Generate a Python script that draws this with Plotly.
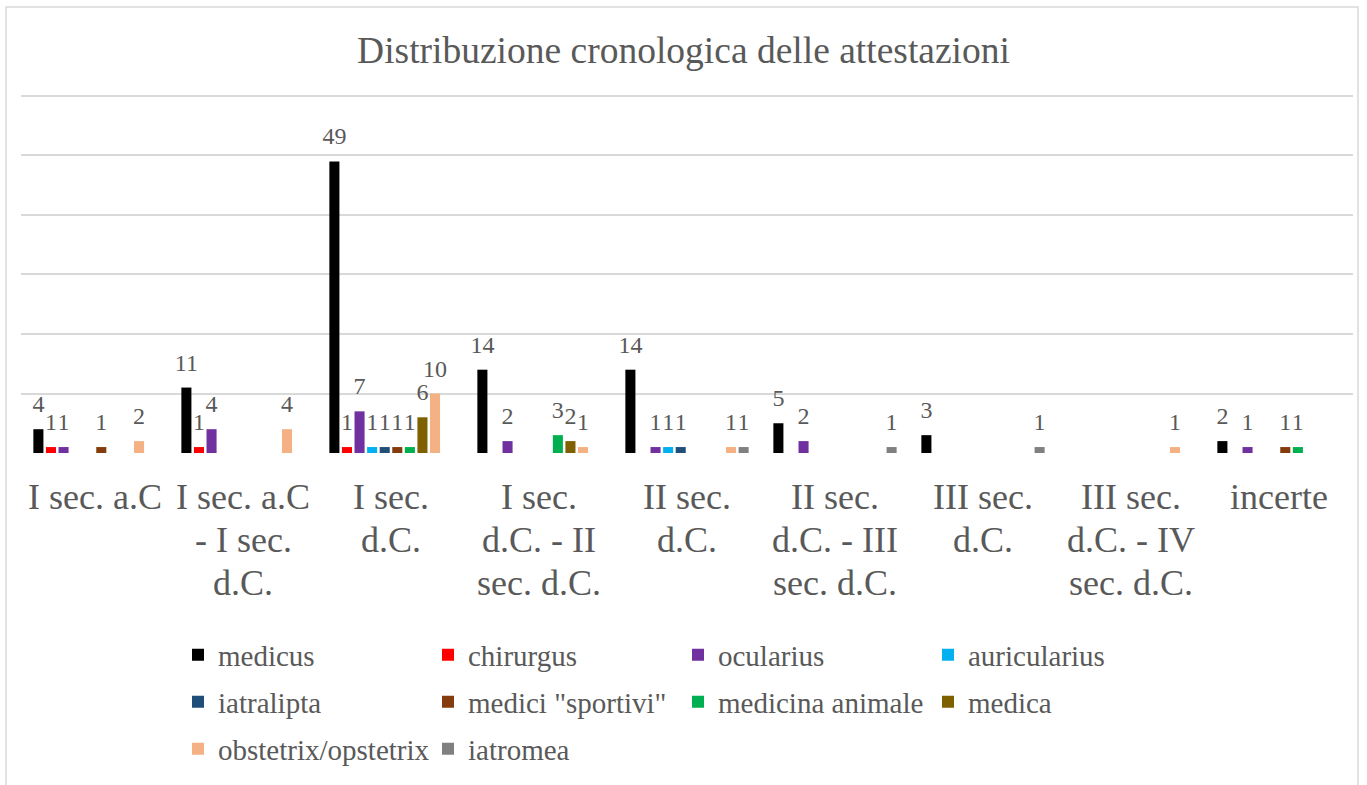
import plotly.graph_objects as go

# ---- data ----
categories = ["I sec. a.C", "I sec. a.C - I sec. d.C.", "I sec. d.C.",
              "I sec. d.C. - II sec. d.C.", "II sec. d.C.",
              "II sec. d.C. - III sec. d.C.", "III sec. d.C.",
              "III sec. d.C. - IV sec. d.C.", "incerte"]
# category labels as they wrap on the axis (one list of lines per category)
tick_label_lines = [["I sec. a.C"],
                    ["I sec. a.C", "- I sec.", "d.C."],
                    ["I sec.", "d.C."],
                    ["I sec.", "d.C. - II", "sec. d.C."],
                    ["II sec.", "d.C."],
                    ["II sec.", "d.C. - III", "sec. d.C."],
                    ["III sec.", "d.C."],
                    ["III sec.", "d.C. - IV", "sec. d.C."],
                    ["incerte"]]

series_names = ["medicus", "chirurgus", "ocularius", "auricularius", "iatralipta",
                'medici "sportivi"', "medicina animale", "medica",
                "obstetrix/opstetrix", "iatromea"]

medicus          = [4, 11, 49, 14, 14, 5, 3, 0, 2]
chirurgus        = [1, 1, 1, 0, 0, 0, 0, 0, 0]
ocularius        = [1, 4, 7, 2, 1, 2, 0, 0, 1]
auricularius     = [0, 0, 1, 0, 1, 0, 0, 0, 0]
iatralipta       = [0, 0, 1, 0, 1, 0, 0, 0, 0]
medici_sportivi  = [1, 0, 1, 0, 0, 0, 0, 0, 1]
medicina_animale = [0, 0, 1, 3, 0, 0, 0, 0, 1]
medica           = [0, 0, 6, 2, 0, 0, 0, 0, 0]
obstetrix        = [2, 4, 10, 1, 1, 0, 0, 1, 0]
iatromea         = [0, 0, 0, 0, 1, 1, 1, 0, 0]

series_values = [medicus, chirurgus, ocularius, auricularius, iatralipta,
                 medici_sportivi, medicina_animale, medica, obstetrix, iatromea]

colors = ["#000000", "#FF0000", "#7030A0", "#00B0F0", "#1F4E79",
          "#843C0C", "#00B050", "#7F6000", "#F4B183", "#808080"]

legend_rows = ["legend", "legend", "legend", "legend",
               "legend2", "legend2", "legend2", "legend2",
               "legend3", "legend3"]

# ---- layout constants ----
W, H = 1367, 785
ML, MR, MT, MB = 21, 14, 93, 332
FONT = "Liberation Serif"
TXT = "#595959"
GRID = "#D9D9D9"
GAP = 0.15

fig = go.Figure()
for name, vals, col, lg in zip(series_names, series_values, colors, legend_rows):
    fig.add_trace(go.Bar(
        name=name, x=categories, y=[v if v else None for v in vals],
        marker=dict(color=col, line=dict(width=0)),
        legend=lg, hoverinfo="x+y+name",
    ))
# data labels: invisible grouped points carrying the value text above each bar
for name, vals in zip(series_names, series_values):
    fig.add_trace(go.Scatter(
        x=categories, y=[v if v else None for v in vals],
        mode="markers+text", text=[str(v) if v else "" for v in vals],
        textposition="top center",
        textfont=dict(family=FONT, size=24, color=TXT),
        marker=dict(size=16, opacity=0), showlegend=False,
        hoverinfo="skip", cliponaxis=False,
    ))

pw = W - ML - MR
ph = H - MT - MB
fig.add_shape(type="rect", xref="paper", yref="paper",
              x0=(6 - ML) / pw, x1=(W - 9 - ML) / pw,
              y0=(H - MB - 800) / ph, y1=(H - MB - 7) / ph,
              line=dict(color=GRID, width=1.5), fillcolor="rgba(0,0,0,0)",
              layer="below")

# category labels, one annotation per wrapped line
for cat, lines in zip(categories, tick_label_lines):
    for i, line in enumerate(lines):
        fig.add_annotation(x=cat, xref="x", yref="paper",
                           y=(H - MB - (497 + 43 * i)) / ph, yanchor="middle",
                           text=line, showarrow=False,
                           font=dict(family=FONT, size=36, color=TXT))

leg_common = dict(orientation="h", x=(178 - ML) / pw, xanchor="left",
                  yanchor="middle", entrywidth=205, entrywidthmode="pixels",
                  font=dict(family=FONT, size=29, color=TXT),
                  bgcolor="rgba(0,0,0,0)", itemclick=False, itemdoubleclick=False)

fig.update_layout(
    width=W, height=H,
    margin=dict(l=ML, r=MR, t=MT, b=MB, autoexpand=False),
    paper_bgcolor="white", plot_bgcolor="white",
    font=dict(family=FONT, color=TXT),
    barmode="group", bargap=GAP, bargroupgap=0.2,
    scattermode="group", scattergap=GAP,
    title=dict(text="Distribuzione cronologica delle attestazioni",
               x=0.5, xanchor="center", y=1 - 50 / H, yanchor="middle",
               font=dict(family=FONT, size=37.5, color=TXT)),
    xaxis=dict(type="category", categoryorder="array", categoryarray=categories,
               showticklabels=False,
               showgrid=False, showline=False, ticks="", zeroline=False,
               automargin=False),
    yaxis=dict(range=[0, 60.5], tickmode="linear", tick0=0, dtick=10,
               showticklabels=False,
               showgrid=True, gridcolor=GRID, gridwidth=1.5,
               zeroline=False, showline=False, ticks="", automargin=False),
    legend=dict(**leg_common, y=(H - MB - 655) / ph),
    legend2=dict(**leg_common, y=(H - MB - 702) / ph),
    legend3=dict(**leg_common, y=(H - MB - 749) / ph),
    showlegend=True,
)

fig.write_html("out.html", config={"displayModeBar": False},
               post_script="document.body.style.margin='0';document.body.style.padding='0';")
